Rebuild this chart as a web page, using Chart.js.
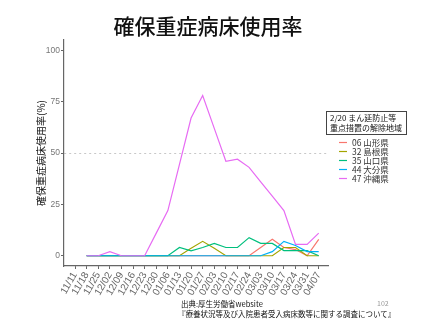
<!DOCTYPE html>
<html>
<head>
<meta charset="utf-8">
<script src="https://cdn.jsdelivr.net/npm/chart.js"></script>
<style>
body{margin:0;background:#fff;}
#wrap{position:relative;width:427px;height:320px;overflow:hidden;font-family:"Noto Sans CJK JP",sans-serif;}
#c{position:absolute;left:0;top:0;}
.t{position:absolute;white-space:nowrap;color:#111;}
</style>
</head>
<body>
<div id="wrap">
  <canvas id="c" width="427" height="320"></canvas>
  <div class="t" style="left:0;width:416px;text-align:center;top:12px;font-size:21px;line-height:26px;font-weight:500;">確保重症病床使用率</div>
  <div class="t" style="left:181px;top:299px;font-size:7.5px;line-height:10px;">出典:厚生労働省website</div>
  <div class="t" style="left:178px;top:309px;font-size:7.5px;line-height:10px;">『療養状況等及び入院患者受入病床数等に関する調査について』</div>
  <div class="t" style="left:377px;top:298px;font-size:7px;line-height:10px;color:#999;">102</div>
</div>
<script>
/* ===== data ===== */
const weeks = ['11/11','11/18','11/25','12/02','12/09','12/16','12/23','12/30','01/06','01/13','01/20',
  '01/27','02/03','02/10','02/17','02/24','03/03','03/10','03/17','03/24','03/31','04/07'];
const yTicks = [0,25,50,75,100];
const prefNames = ['06 山形県','32 島根県','35 山口県','44 大分県','47 沖縄県'];
const yamagata  = [null,0,0,0,0,0,0,0,0,0,0,0,0,0,0,0,4,8,4,3,0,8];
const shimane   = [null,0,0,0,0,0,0,0,0,0,3.6,7,3.6,0,0,0,0,0,4,4,0,0];
const yamaguchi = [null,0,0,0,0,0,0,0,0,4,2.4,4,6,4,4,8.8,6,6,2.5,2.5,2.5,0];
const oita      = [null,0,0,0,0,0,0,0,0,0,0,0,0,0,0,0,0,2,7,5,2,2];
const okinawa   = [null,0,0,2,0,0,0,11,22,44.5,67,78,62,46,47,43,36,29,22,5.5,5.5,11];
const legendTitle = ['2/20 まん延防止等','重点措置の解除地域'];
const cols = ['#F8766D','#A3A500','#00BF7D','#00B0F6','#E76BF3'];

const series = [yamagata,shimane,yamaguchi,oita,okinawa];
const JP = '"Noto Sans CJK JP", sans-serif';

/* legend drawn by hand, ggplot style */
const legendBox = {
  id:'legendBox',
  afterDraw(chart){
    const ctx = chart.ctx;
    ctx.save();
    ctx.strokeStyle = '#444'; ctx.lineWidth = 1;
    ctx.strokeRect(326.5,111.5,80,23);
    ctx.fillStyle = '#111';
    ctx.font = '8px ' + JP;
    ctx.textBaseline = 'middle';
    legendTitle.forEach((s,i)=>ctx.fillText(s,330,117.5+10*i));
    ctx.font = '8.5px ' + JP;
    chart.data.datasets.forEach((d,i)=>{
      const y = 142.5 + 9*i;
      ctx.strokeStyle = d.borderColor; ctx.lineWidth = 1.2;
      ctx.beginPath(); ctx.moveTo(339,y); ctx.lineTo(347,y); ctx.stroke();
      ctx.fillStyle = '#333';
      ctx.fillText(d.label,352,y);
    });
    ctx.restore();
  }
};

new Chart(document.getElementById('c'),{
  type:'line',
  data:{
    datasets: series.map((s,i)=>({
      label: prefNames[i],
      data: s.map((v,j)=>({x:j,y:v})),
      borderColor: cols[i],
      borderWidth: 1.2,
      pointRadius: 0,
      tension: 0,
      spanGaps: false,
      order: 5 - i
    }))
  },
  options:{
    responsive:false,
    animation:false,
    layout:{padding:{top:40,right:99,left:0,bottom:0}},
    plugins:{legend:{display:false},tooltip:{enabled:false}},
    scales:{
      x:{
        type:'linear', min:-0.95, max:21.8,
        afterFit: s=>{ s.height = 54; },
        grid:{drawOnChartArea:false, tickLength:3, tickColor:'#666'},
        border:{color:'#666', width:1.2},
        ticks:{
          stepSize:1, includeBounds:false, autoSkip:false,
          minRotation:60, maxRotation:60, padding:1,
          color:'#666', font:{size:10, family:'"Liberation Sans", sans-serif'},
          callback: v => weeks[v] ?? ''
        }
      },
      y:{
        min:-5, max:105,
        afterFit: s=>{ s.width = 64; },
        afterBuildTicks: s=>{ s.ticks = yTicks.map(v=>({value:v})); },
        grid:{
          color: c => c.tick && c.tick.value === 50 ? '#c8c8c8' : 'rgba(0,0,0,0)',
          tickLength:3, tickColor:'#666', lineWidth:1
        },
        border:{color:'#666', width:1.2, dash:[2,3]},
        ticks:{color:'#777', padding:1, font:{size:8.5, family:'"Liberation Sans", sans-serif'}},
        title:{display:true, text:'確保重症病床使用率(%)', color:'#111',
          font:{size:10, family:JP}, padding:{top:35,bottom:0}}
      }
    }
  },
  plugins:[legendBox]
});
</script>
</body>
</html>
